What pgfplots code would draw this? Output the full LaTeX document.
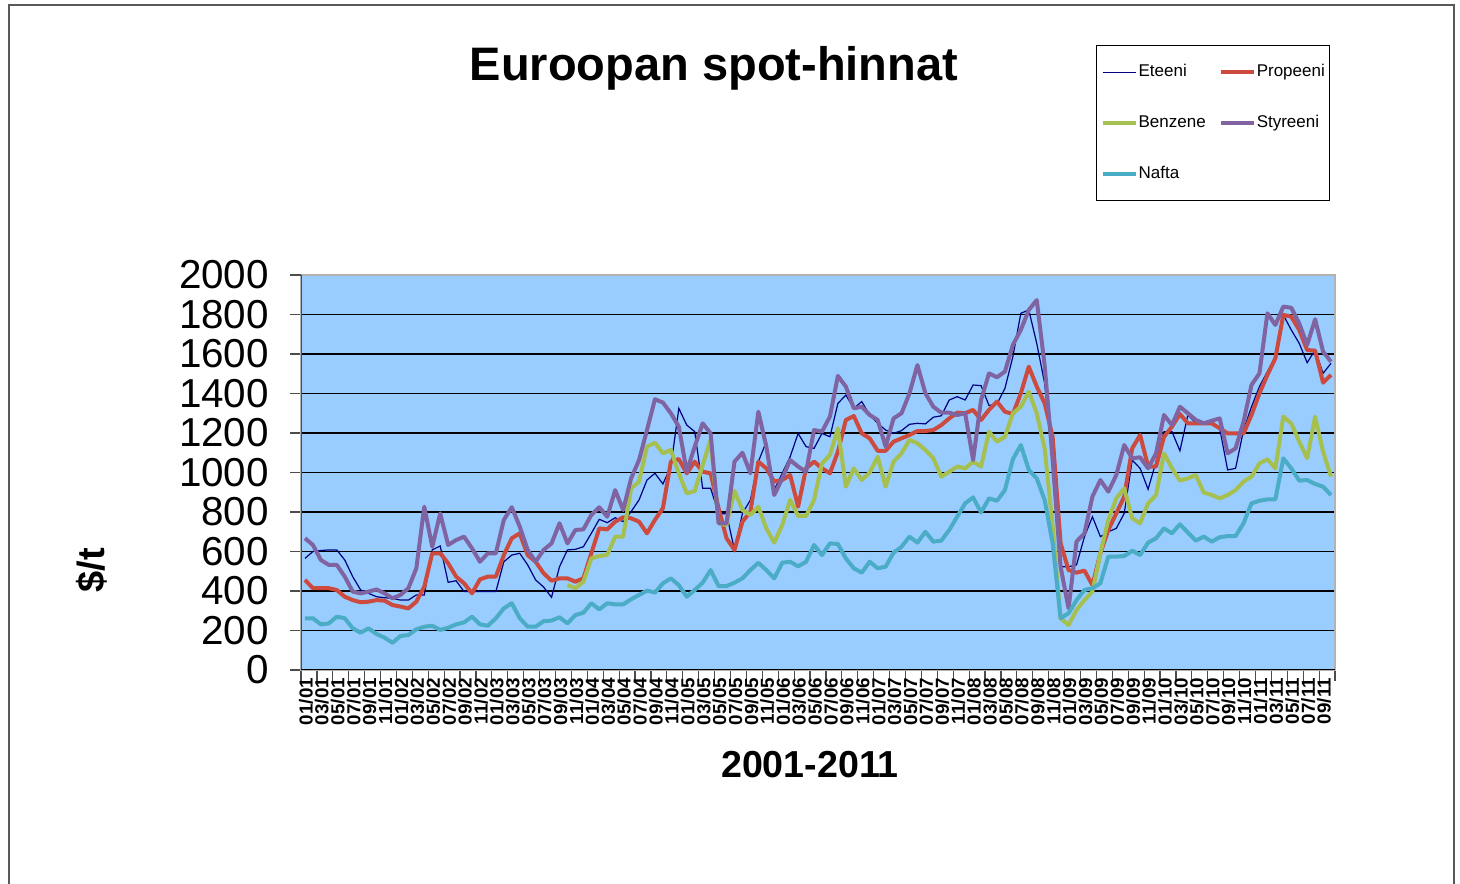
\documentclass[border=0pt]{standalone}
\usepackage{fontspec}
\setmainfont{Liberation Sans}
\usepackage{pgfplots}
\usepackage{pgfplotstable}
\pgfplotsset{compat=1.18}
\definecolor{bgblue}{HTML}{99CCFF}
\definecolor{cet}{HTML}{000080}
\definecolor{cpr}{HTML}{CC4A3E}
\definecolor{cbe}{HTML}{A5C04E}
\definecolor{cst}{HTML}{8064A2}
\definecolor{cna}{HTML}{4BACC6}
\pgfplotstableread{
i et pr be st na
0 565 456 nan 667 262
1 600 414 nan 633 262
2 605 414 nan 557 231
3 608 414 nan 532 236
4 608 405 nan 532 270
5 557 371 nan 473 262
6 473 354 nan 397 211
7 405 343 nan 388 189
8 388 346 nan 397 211
9 371 354 nan 408 182
10 366 351 nan 388 164
11 363 329 nan 363 138
12 354 321 nan 380 172
13 354 312 nan 414 177
14 380 346 nan 515 206
15 380 422 nan 827 219
16 608 591 nan 624 224
17 628 591 nan 793 203
18 444 540 nan 633 214
19 452 473 nan 658 231
20 397 439 nan 675 241
21 397 388 nan 616 270
22 397 459 nan 548 231
23 397 473 nan 591 224
24 397 473 nan 591 262
25 548 582 nan 760 312
26 582 667 nan 824 338
27 591 692 nan 726 262
28 532 582 nan 608 219
29 456 548 nan 548 219
30 420 490 nan 608 247
31 368 452 nan 641 250
32 523 464 nan 743 267
33 608 464 430 641 236
34 611 447 414 709 278
35 624 464 447 712 290
36 692 591 565 785 338
37 763 717 577 824 307
38 746 712 582 776 338
39 771 751 675 911 332
40 751 773 675 810 332
41 802 768 920 970 358
42 861 751 954 1063 380
43 962 692 1131 1215 402
44 996 760 1151 1371 392
45 942 819 1097 1354 439
46 1030 1055 1114 1300 464
47 1325 1068 996 1232 430
48 1240 996 895 1004 371
49 1207 1055 906 1131 405
50 920 1004 1038 1249 442
51 920 996 1165 1198 506
52 793 819 743 743 425
53 790 667 734 743 425
54 608 608 906 1055 442
55 793 751 810 1100 464
56 861 802 785 996 506
57 1055 1055 827 1308 543
58 1156 1021 717 1131 506
59 912 954 645 886 464
60 996 962 734 970 543
61 1080 987 861 1063 548
62 1198 827 780 1030 525
63 1131 1021 780 1004 548
64 1122 1055 861 1215 633
65 1198 1021 1046 1207 582
66 1181 996 1089 1283 641
67 1350 1105 1224 1489 638
68 1392 1266 928 1435 565
69 1325 1286 1021 1325 515
70 1359 1198 962 1333 493
71 1291 1173 1000 1291 548
72 1249 1110 1080 1266 515
73 1215 1110 928 1131 523
74 1198 1156 1055 1274 594
75 1212 1173 1097 1300 624
76 1244 1190 1165 1401 675
77 1249 1210 1148 1544 645
78 1246 1210 1114 1401 700
79 1280 1215 1072 1333 650
80 1287 1240 979 1303 655
81 1367 1274 1004 1303 709
82 1384 1303 1030 1291 776
83 1367 1300 1021 1300 844
84 1443 1317 1055 1063 874
85 1440 1266 1030 1367 798
86 1339 1317 1207 1502 869
87 1347 1359 1156 1482 857
88 1426 1308 1181 1511 911
89 1587 1296 1300 1646 1067
90 1806 1401 1333 1722 1139
91 1823 1536 1409 1823 1013
92 1654 1435 1300 1873 970
93 1450 1350 1120 1540 860
94 1063 1180 726 1063 641
95 523 641 262 523 262
96 523 506 228 312 287
97 532 493 304 650 354
98 675 503 354 692 405
99 776 430 397 878 414
100 675 591 591 962 439
101 700 709 760 903 574
102 717 793 869 987 574
103 793 878 920 1139 577
104 1063 1122 768 1072 604
105 1021 1190 743 1077 582
106 915 1030 844 1021 645
107 1055 1030 886 1097 667
108 1207 1181 1097 1291 717
109 1207 1232 1021 1240 692
110 1110 1296 959 1333 738
111 1291 1249 970 1300 696
112 1252 1249 987 1266 655
113 1249 1249 898 1249 675
114 1257 1249 886 1262 650
115 1224 1224 869 1274 672
116 1013 1198 886 1097 678
117 1021 1198 911 1122 678
118 1215 1198 954 1257 743
119 1333 1291 979 1443 844
120 1435 1401 1046 1502 857
121 1511 1494 1067 1806 864
122 1587 1578 1021 1747 864
123 1798 1798 1283 1840 1072
124 1722 1789 1249 1834 1021
125 1654 1722 1156 1755 959
126 1556 1620 1072 1646 962
127 1620 1617 1283 1776 942
128 1502 1455 1105 1612 928
129 1553 1494 979 1561 886
}\prices
\begin{document}
\begin{tikzpicture}
\useasboundingbox (0,0) rectangle (730pt,441.5pt);
\draw[black!65, line width=0.7pt] (4.5pt,-5pt) -- (4.5pt,439pt) -- (727pt,439pt) -- (727pt,-5pt);
\begin{axis}[
  scale only axis, width=517pt, height=197.5pt,
  at={(150.5pt,106.5pt)}, anchor=south west,
  xmin=-0.5, xmax=129.5, ymin=0, ymax=2000,
  axis background/.style={fill=bgblue},
  axis line style={draw=black!30, line width=0.8pt},
  tick align=outside, tick pos=left,
  major tick length=5.5pt,
  tick style={black!70, line width=0.6pt},
  ytick={0,200,...,1800},
  extra y ticks={2000}, extra y tick style={grid=none},
  ymajorgrids, grid style={black, line width=0.8pt},
  /pgf/number format/assume math mode=true,
  yticklabel style={/pgf/number format/1000 sep={}, font=\fontsize{20.2}{21}\selectfont, xshift=-7pt},
  xtick={-0.5,1.5,...,129.5},
  x tick label as interval,
  xticklabels={01/01,03/01,05/01,07/01,09/01,11/01,01/02,03/02,05/02,07/02,09/02,11/02,01/03,03/03,05/03,07/03,09/03,11/03,01/04,03/04,05/04,07/04,09/04,11/04,01/05,03/05,05/05,07/05,09/05,11/05,01/06,03/06,05/06,07/06,09/06,11/06,01/07,03/07,05/07,07/07,09/07,11/07,01/08,03/08,05/08,07/08,09/08,11/08,01/09,03/09,05/09,07/09,09/09,11/09,01/10,03/10,05/10,07/10,09/10,11/10,01/11,03/11,05/11,07/11,09/11},
  xticklabel style={rotate=90, anchor=east, yshift=1.5pt, xshift=5pt, font=\bfseries\fontsize{9.4}{10}\selectfont},
  title={Euroopan spot-hinnat},
  title style={at={(0.3994,1.4935)}, anchor=center, yshift=0pt, font=\bfseries\fontsize{23.5}{28}\selectfont},
  xlabel={2001-2011},
  xlabel style={at={(0.4923,-0.2405)}, anchor=center, font=\bfseries\fontsize{18.8}{22}\selectfont},
  ylabel={\$/t},
  ylabel style={at={(-0.2021,0.2532)}, anchor=center, font=\bfseries\fontsize{19}{22}\selectfont},
  legend columns=2,
  legend style={at={(0.769,1.582)}, anchor=north west, draw=black, line width=0.5pt, fill=white,
    font=\fontsize{8.5}{10}\selectfont, inner xsep=2pt, inner ysep=7.5pt, row sep=13.75pt,
    nodes={inner xsep=0.5pt},
    /tikz/every even column/.append style={column sep=6pt}, cells={anchor=west}},
  legend image code/.code={\draw[#1] (0pt,0pt) -- (16.5pt,0pt);},
  unbounded coords=jump,
]
\addplot[cet, line width=0.6pt] table[x=i, y=et] {\prices};
\addlegendentry{Eteeni}
\addplot[cpr, line width=2pt, line join=round] table[x=i, y=pr] {\prices};
\addlegendentry{Propeeni}
\addplot[cbe, line width=2pt, line join=round] table[x=i, y=be] {\prices};
\addlegendentry{Benzene}
\addplot[cst, line width=2pt, line join=round] table[x=i, y=st] {\prices};
\addlegendentry{Styreeni}
\addplot[cna, line width=2pt, line join=round] table[x=i, y=na] {\prices};
\addlegendentry{Nafta}
\draw[black!70, line width=0.9pt] (rel axis cs:0,0) -- (rel axis cs:0,1);
\draw[black, line width=0.9pt] (rel axis cs:0,0) -- (rel axis cs:1,0);
\end{axis}
\end{tikzpicture}
\end{document}
